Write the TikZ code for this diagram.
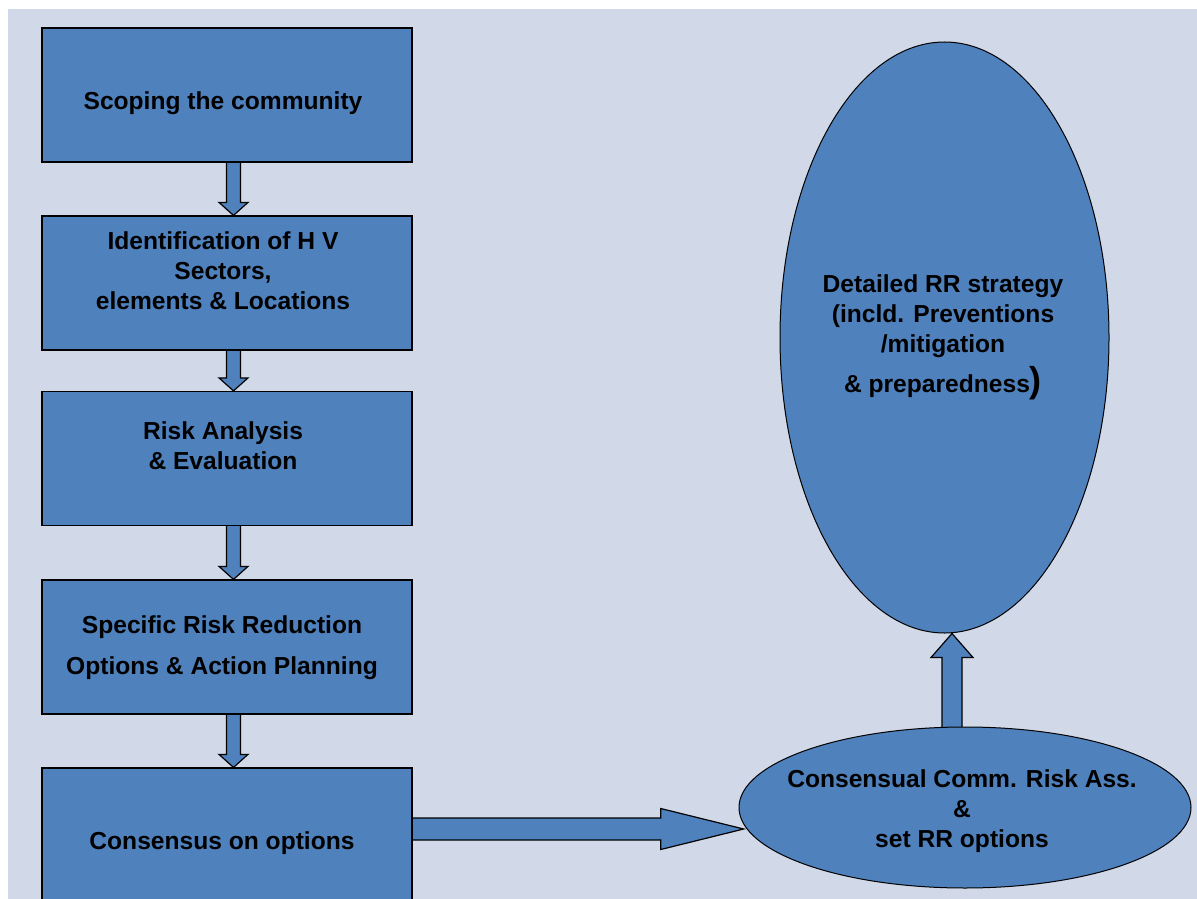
\documentclass[tikz,border=0pt]{standalone}
\usepackage{fontspec}
\setmainfont{Liberation Sans}
\usetikzlibrary{shapes.geometric,calc}
\pgfdeclarelayer{backdrop}
\pgfdeclarelayer{links}
\pgfsetlayers{backdrop,links,main}
\definecolor{pagebg}{HTML}{D1D8E7}
\definecolor{stepblue}{HTML}{4F81BD}

\tikzset{
  stepbox/.style={draw=black, line width=1.2pt, fill=stepblue,
    minimum width=370pt, minimum height=134pt, inner sep=0pt},
  oval/.style={ellipse, draw=black, line width=1pt, fill=stepblue, inner sep=0pt},
  steptext/.style={font=\bfseries\fontsize{24.6}{30}\selectfont, align=center,
    inner sep=0pt, text=black},
  blockarrow/.style={draw=black, line width=1.2pt, fill=stepblue, line join=miter},
}

% downward block arrow from the bottom of #1 to the top of #2
\newcommand\downlink[2]{%
  \draw[blockarrow] let \p1=($(#1.south)+(6.5,-3)$), \p2=($(#2.north)+(6.5,0)$) in
    (\x1-7pt,\y1) -- (\x1-7pt,\y2+13pt) -- (\x1-14.5pt,\y2+13pt) -- (\x1,\y2)
    -- (\x1+14.5pt,\y2+13pt) -- (\x1+7pt,\y2+13pt) -- (\x1+7pt,\y1) -- cycle;}

\begin{document}
\begin{tikzpicture}[x=1pt,y=-1pt]
  \useasboundingbox (0,0) rectangle (1197,899);
  \clip (0,0) rectangle (1197,899);
  \begin{pgfonlayer}{backdrop}
    \fill[white] (0,0) rectangle (1197,899);
    \fill[pagebg] (8,9) rectangle (1197,899);
  \end{pgfonlayer}

  % process steps
  \node[stepbox] (c1) at (227,95) {};
  \node[stepbox] (c2) at (227,283) {};
  \node[stepbox] (c3) at (227,458.5) {};
  \node[stepbox] (c4) at (227,647) {};
  \node[stepbox, minimum height=160pt] (c5) at (227,848) {};

  \node[steptext] (t1) at (223,103) {Scoping the community};
  \node[steptext] (t2) at (223,271) {Identification of H V\\Sectors,\\elements \& Locations};
  \node[steptext] (t3) at (223,446) {Risk Analysis\\\& Evaluation};
  \node[steptext] (t4) at (222,648) {Specific Risk Reduction\\[11pt]Options \& Action Planning};
  \node[steptext] (t5) at (222,843) {Consensus on options};

  % outcomes
  \node[oval, minimum width=329pt, minimum height=591pt] (big) at (944.5,337.5) {};
  \node[oval, minimum width=452pt, minimum height=161pt] (small) at (965,807.5) {};

  \node[steptext] (tb) at (943,337) {Detailed RR strategy\\(incld. Preventions\\/mitigation\\[8pt]\& preparedness{\fontsize{36}{36}\selectfont)}};
  \node[steptext] (ts) at (962,811) {Consensual Comm. Risk Ass.\\\&\\set RR options};

  \coordinate (hy) at (0,829);
  \coordinate (ux) at (952,0);

  \begin{pgfonlayer}{links}
    \downlink{c1}{c2}
    \downlink{c2}{c3}
    \downlink{c3}{c4}
    \downlink{c4}{c5}
    % to the consensus ellipse
    \draw[blockarrow] let \p1=($(c5.east |- hy)+(-3,0)$), \p2=($(small.186)+(-4,0)$) in
      (\x1,\y1+11pt) -- (\x2-83pt,\y1+11pt) -- (\x2-83pt,\y1+20.5pt) -- (\x2,\y1)
      -- (\x2-83pt,\y1-20.5pt) -- (\x2-83pt,\y1-11pt) -- (\x1,\y1-11pt) -- cycle;
    % up to the strategy ellipse
    \draw[blockarrow] let \p1=($(small.north -| ux)+(0,4)$), \p2=(big.south -| ux) in
      (\x1-10pt,\y1) -- (\x1-10pt,\y2-24pt) -- (\x1-21pt,\y2-24pt) -- (\x1,\y2)
      -- (\x1+21pt,\y2-24pt) -- (\x1+10pt,\y2-24pt) -- (\x1+10pt,\y1) -- cycle;
  \end{pgfonlayer}
\end{tikzpicture}
\end{document}
